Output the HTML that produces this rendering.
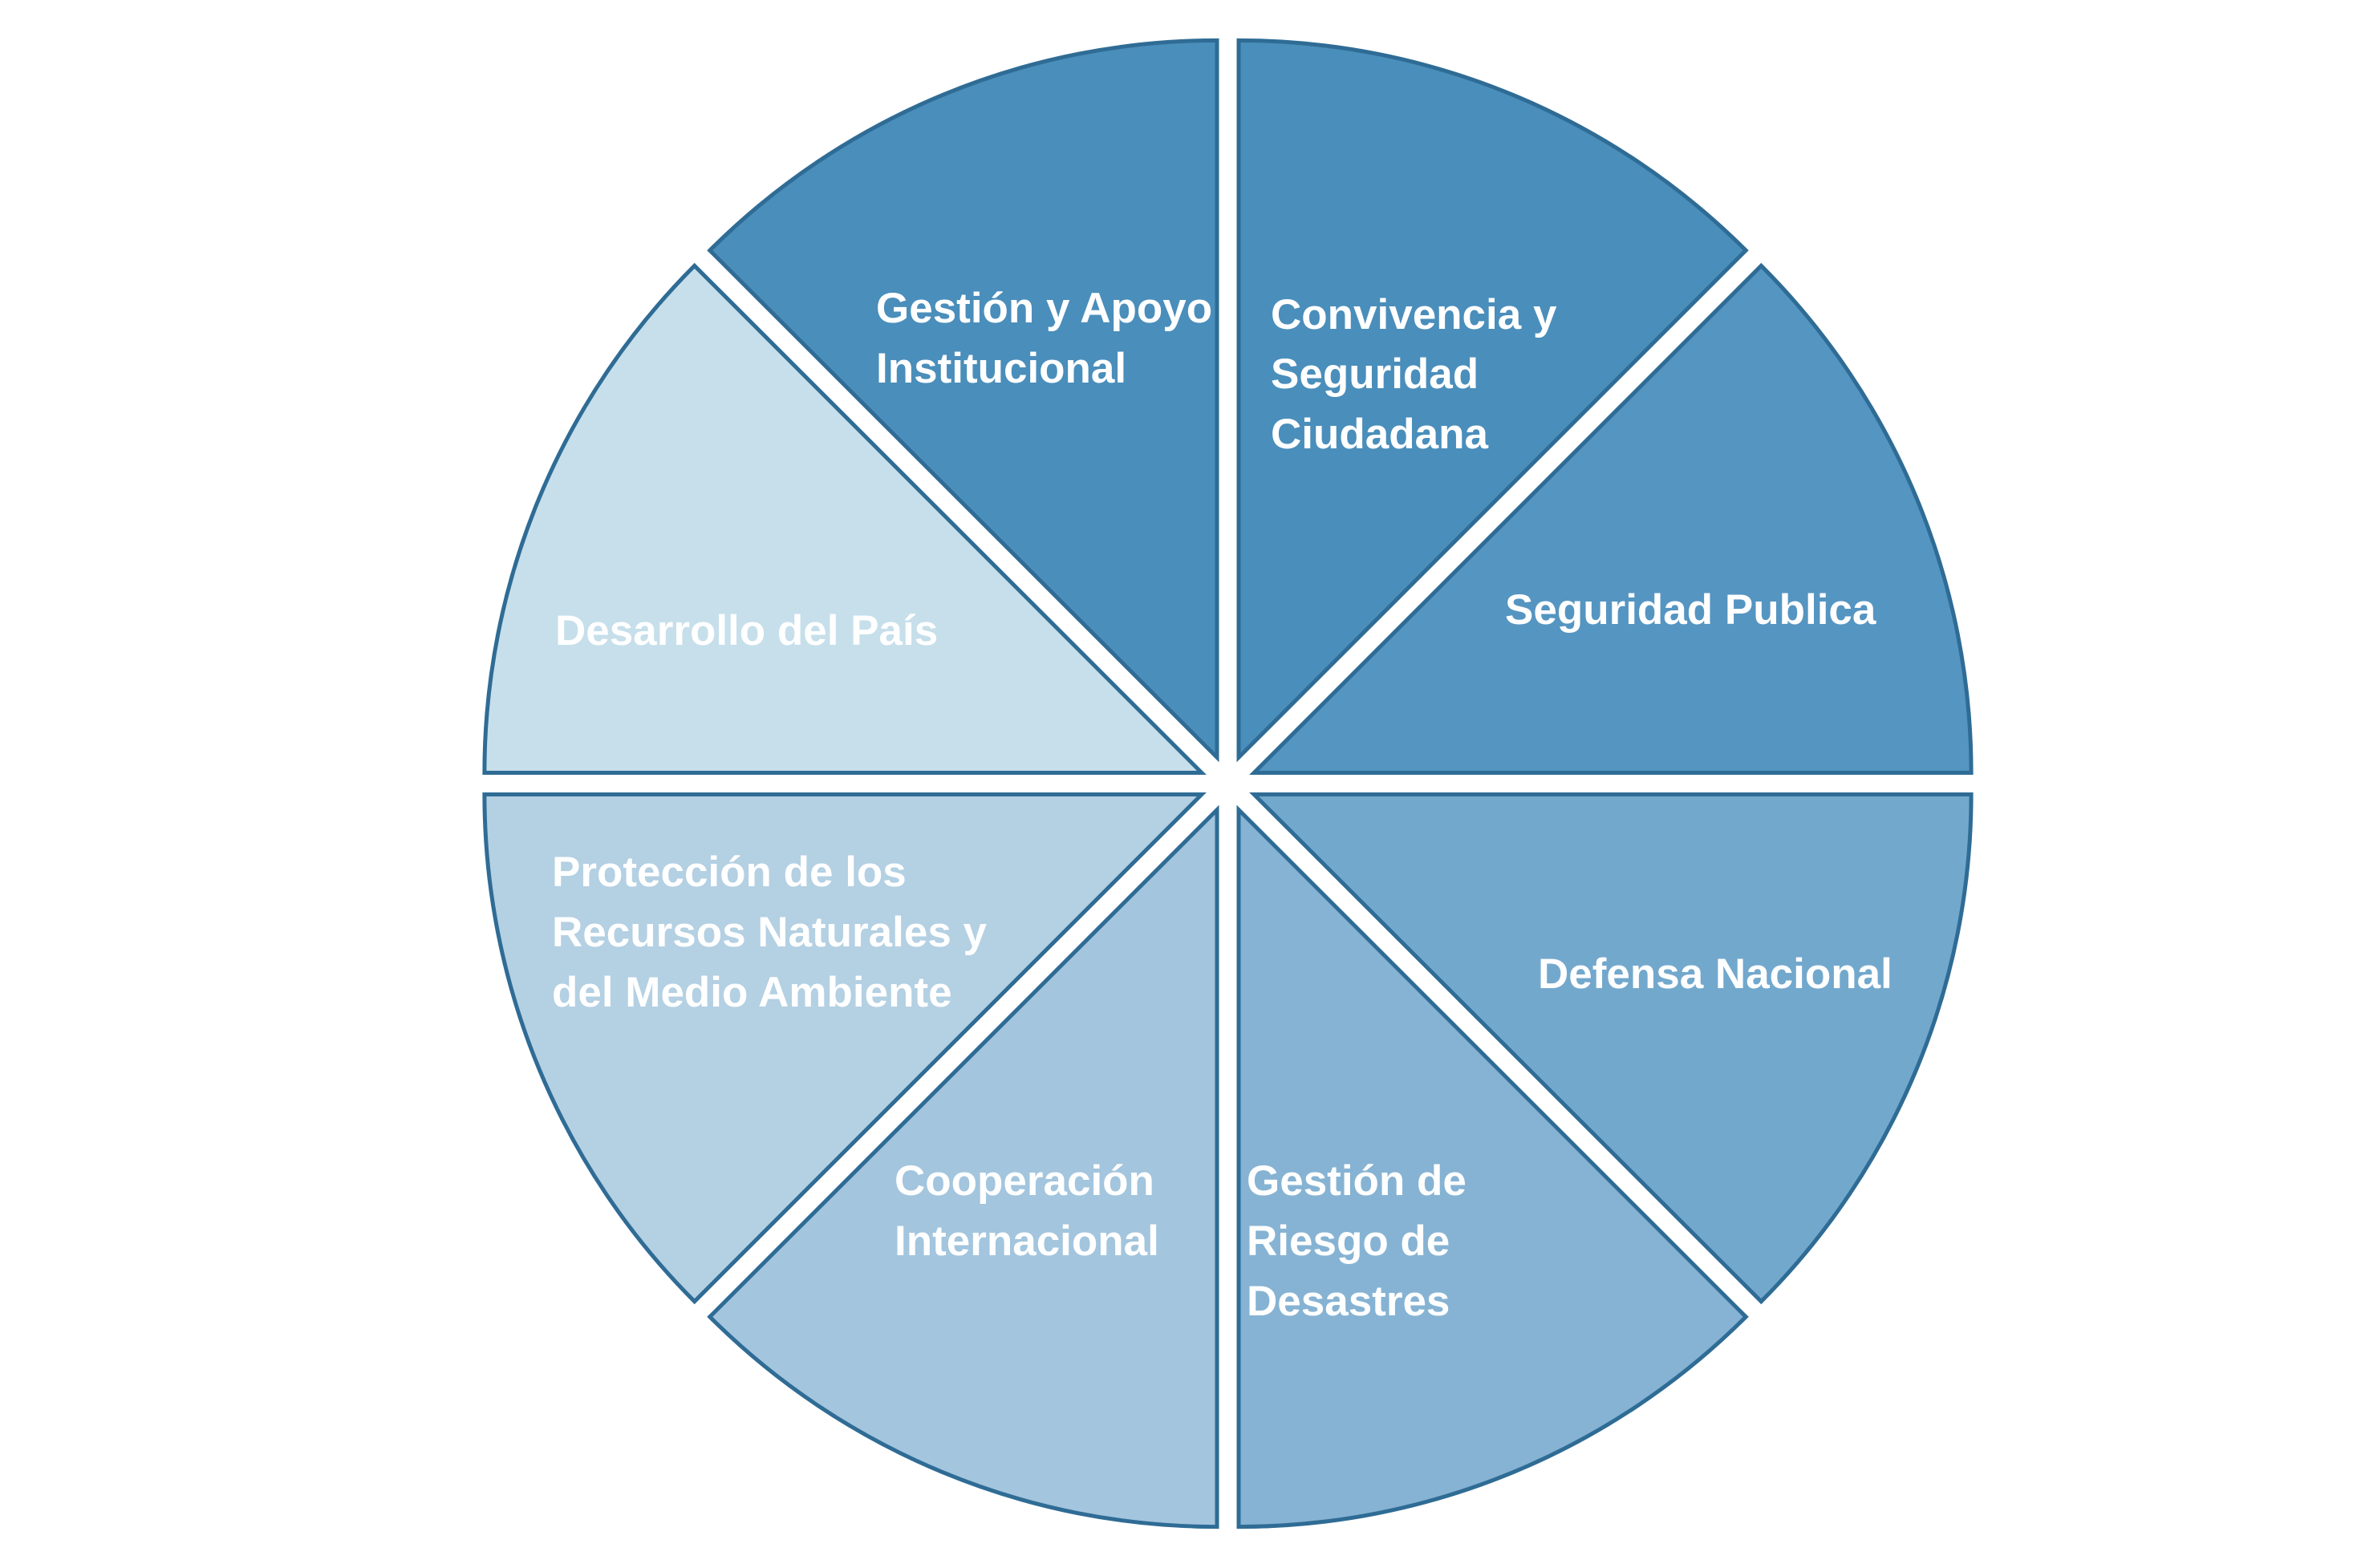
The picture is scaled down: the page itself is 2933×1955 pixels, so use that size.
<!DOCTYPE html>
<html><head><meta charset="utf-8"><style>
html,body{margin:0;padding:0;background:#fff}
svg{display:block}
text{font-family:"Liberation Sans",sans-serif;font-weight:bold;font-size:53px;fill:#fff}
</style></head><body>
<svg width="2933" height="1955" viewBox="0 0 2933 1955" xmlns="http://www.w3.org/2000/svg">
<g stroke="#2f6c95" stroke-width="5" stroke-linejoin="miter">
<path d="M1563.1,963.5 L2195.3,331.3 A894,894 0 0 1 2457.1,963.5 Z" fill="#5595c1"/>
<path d="M1563.1,990.5 L2457.1,990.5 A894,894 0 0 1 2195.3,1622.7 Z" fill="#73a8cd"/>
<path d="M1544,1009.6 L2176.2,1641.8 A894,894 0 0 1 1544,1903.6 Z" fill="#86b3d3"/>
<path d="M1517,1009.6 L1517,1903.6 A894,894 0 0 1 884.8,1641.8 Z" fill="#a3c5de"/>
<path d="M1497.9,990.5 L865.7,1622.7 A894,894 0 0 1 603.9,990.5 Z" fill="#b4d0e3"/>
<path d="M1497.9,963.5 L603.9,963.5 A894,894 0 0 1 865.7,331.3 Z" fill="#c6dfeb"/>
<path d="M1517,944.4 L884.8,312.2 A894,894 0 0 1 1517,50.4 Z" fill="#4a8ebb"/>
<path d="M1544,944.4 L1544,50.4 A894,894 0 0 1 2176.2,312.2 Z" fill="#4a8ebb"/>
</g>
<text x="1092" y="402">Gestión y Apoyo</text>
<text x="1092" y="477">Institucional</text>
<text x="1584" y="410">Convivencia y</text>
<text x="1584" y="484">Seguridad</text>
<text x="1584" y="559">Ciudadana</text>
<text x="1876" y="778">Seguridad Publica</text>
<text x="692" y="804">Desarrollo del País</text>
<text x="688" y="1105">Protección de los</text>
<text x="688" y="1180">Recursos Naturales y</text>
<text x="688" y="1255">del Medio Ambiente</text>
<text x="1917" y="1232">Defensa Nacional</text>
<text x="1115" y="1490">Cooperación</text>
<text x="1115" y="1565">Internacional</text>
<text x="1554" y="1490">Gestión de</text>
<text x="1554" y="1565">Riesgo de</text>
<text x="1554" y="1640">Desastres</text>
</svg>
</body></html>
